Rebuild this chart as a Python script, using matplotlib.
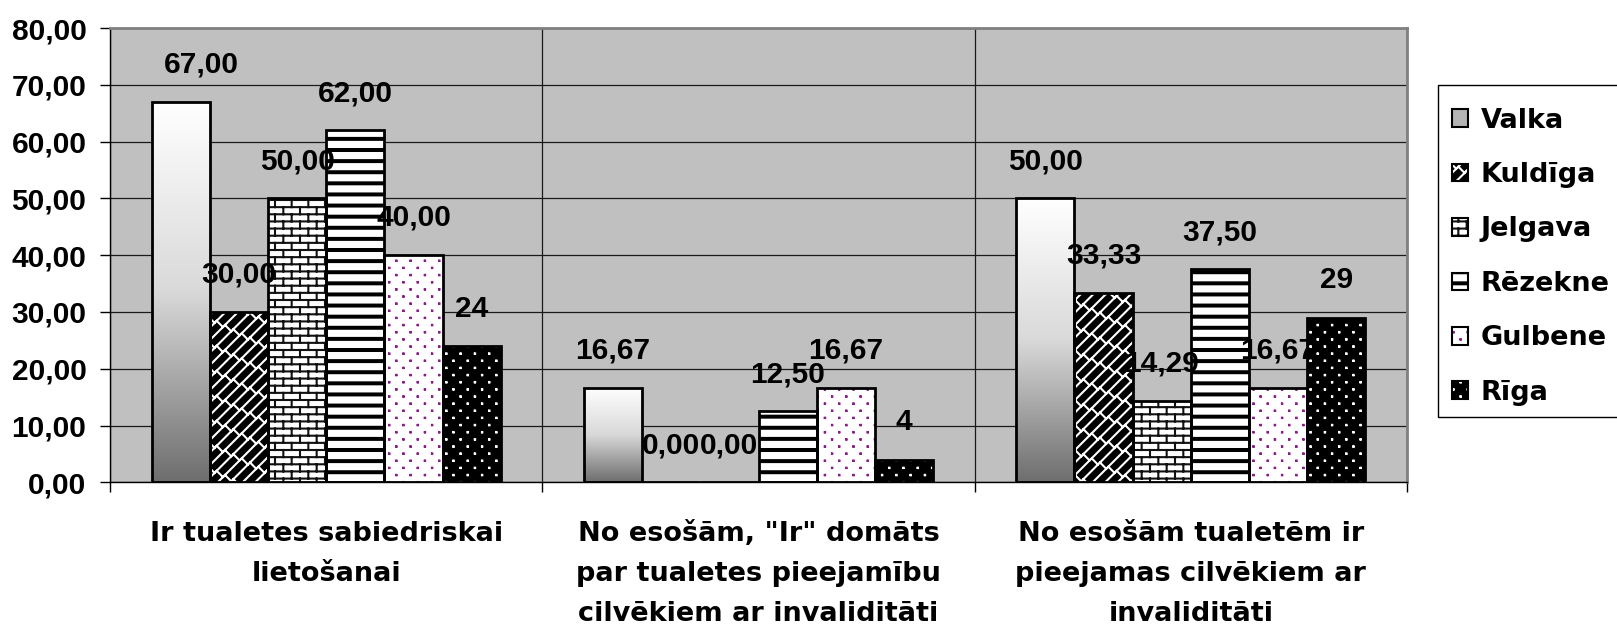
import warnings
warnings.filterwarnings("ignore")
import numpy as np
import matplotlib
matplotlib.use("Agg")
import matplotlib.pyplot as plt
import matplotlib.hatch as mhatch
from matplotlib.path import Path
from matplotlib.patches import Patch, Rectangle
from matplotlib.legend_handler import HandlerTuple
from matplotlib.colors import LinearSegmentedColormap

# ---------------- data ----------------
categories = [
    "Ir tualetes sabiedriskai\nlietošanai",
    "No esošām, \"Ir\" domāts\npar tualetes pieejamību\ncilvēkiem ar invaliditāti",
    "No esošām tualetēm ir\npieejamas cilvēkiem ar\ninvaliditāti",
]
series_names = ["Valka", "Kuldīga", "Jelgava", "Rēzekne", "Gulbene", "Rīga"]
valka = [67.00, 16.67, 50.00]
kuldiga = [30.00, 0.00, 33.33]
jelgava = [50.00, 0.00, 14.29]
rezekne = [62.00, 12.50, 37.50]
gulbene = [40.00, 16.67, 16.67]
riga = [24, 4, 29]
label_decimals = [2, 2, 2, 2, 2, 0]
y_ticks = [0, 10, 20, 30, 40, 50, 60, 70, 80]

series_values = [valka, kuldiga, jelgava, rezekne, gulbene, riga]

# ---------------- custom hatch patterns ----------------
mhatch._validate_hatch_pattern = lambda h: None
plt.rcParams['hatch.linewidth'] = 1.5


class _CustomHatch(mhatch.HatchPatternBase):
    char = None

    def __init__(self, hatch, density):
        self.polys = self.build() if (hatch and self.char in hatch) else []
        self.num_vertices = sum(len(p) for p in self.polys)

    def build(self):
        return []

    def set_vertices_and_codes(self, vertices, codes):
        i = 0
        for p in self.polys:
            n = len(p)
            vertices[i:i + n] = p
            codes[i] = Path.MOVETO
            codes[i + 1:i + n] = Path.LINETO
            i += n


class StripeHatch(_CustomHatch):
    char = 'S'

    def build(self):
        polys = []
        n = 9
        hh = 0.0095
        for k in range(n):
            y0 = (k + 0.5) / n
            polys.append([(-0.1, y0 - hh), (1.1, y0 - hh), (1.1, y0 + hh),
                          (-0.1, y0 + hh), (-0.1, y0 - hh)])
        return polys


class DotHatch(_CustomHatch):
    char = 'P'

    def build(self):
        polys = []
        ncol, nrow = 7, 14
        s = 0.0015
        for r in range(nrow):
            y = (r + 0.5) / nrow
            off = 0.5 * (r % 2)
            for c in range(-1, ncol + 1):
                x = (c + 0.25 + off) / ncol
                polys.append([(x - s, y - s), (x + s, y - s), (x + s, y + s),
                              (x - s, y + s), (x - s, y - s)])
        return polys


class BrickHatch(_CustomHatch):
    char = 'B'

    def build(self):
        polys = []
        nrow, ncol = 14, 6
        for r in range(nrow + 1):
            y = r / nrow
            polys.append([(-0.1, y), (1.1, y)])
        for r in range(nrow):
            y0, y1 = r / nrow, (r + 1) / nrow
            off = 0.5 * (r % 2)
            for c in range(-1, ncol + 1):
                x = (c + off) / ncol
                polys.append([(x, y0), (x, y1)])
        return polys


class DiagBrickHatch(_CustomHatch):
    char = 'D'

    def build(self):
        polys = []
        N, M = 8, 6
        for k in range(-N - 1, 2 * N + 1):
            c = k / N
            polys.append([(-0.2, -0.2 + c), (1.2, 1.2 + c)])
            off = 0.5 * (k % 2)
            for j in range(-2, M + 2):
                x0 = (j + off) / M
                polys.append([(x0, x0 + (k + 1) / N),
                              (x0 + 1 / (2 * N), x0 + 1 / (2 * N) + k / N)])
        return polys


mhatch._hatch_types.extend([StripeHatch, DotHatch, BrickHatch, DiagBrickHatch])

# ---------------- styles ----------------
NUM_FONT = dict(family='Liberation Sans', weight='bold', size=21.5)
WORD_FONT = dict(family='DejaVu Sans', weight='bold', size=19.5)
styles = [
    dict(face='white', hatch=None, hcol='black', gradient=True, legend_face='#b4b4b4'),
    dict(face='black', hatch='D', hcol='white'),
    dict(face='white', hatch='B', hcol='#111111'),
    dict(face='white', hatch='S', hcol='black'),
    dict(face='white', hatch='P', hcol='#8a1a8a'),
    dict(face='black', hatch='P', hcol='white'),
]

fig = plt.figure(figsize=(16.17, 6.3), dpi=100)
ax = fig.add_axes([110 / 1617, 1 - 482.3 / 630, (1407 - 110) / 1617, (482.3 - 28) / 630])
ax.set_facecolor('#c0c0c0')

x = np.arange(len(categories))
n = len(series_names)
w = 0.1346
grad_cmap = LinearSegmentedColormap.from_list('g', ['#6e6e6e', '#d9d9d9', '#ffffff'])

label_dx = {(0, 0): 15}
handles = []
for i, (vals, st) in enumerate(zip(series_values, styles)):
    pos = x + (i - (n - 1) / 2) * w
    zb = 3.0 if i == n - 1 else 2.0
    fill = ax.bar(pos, vals, w, color=st['face'], edgecolor=st['hcol'], linewidth=0,
                  hatch=st['hatch'], zorder=zb)
    outline = ax.bar(pos, vals, w, fill=False, edgecolor='black', linewidth=2,
                     zorder=zb + 0.1)
    if st.get('gradient'):
        grad = np.linspace(1, 0, 256)[:, None]
        for rect in fill.patches:
            h = rect.get_height()
            if h <= 0:
                continue
            x0 = rect.get_x()
            im = ax.imshow(grad, extent=(x0, x0 + rect.get_width(), 0, h), origin='upper',
                           cmap=grad_cmap, vmin=0, vmax=1, aspect='auto',
                           interpolation='bilinear', zorder=zb + 0.05)
            im.set_clip_path(rect)
    dec = label_decimals[i]
    for j, (rect, v) in enumerate(zip(fill.patches, vals)):
        txt = f"{v:.{dec}f}".replace('.', ',')
        ax.annotate(txt, xy=(rect.get_x() + rect.get_width() / 2, v),
                    xytext=(label_dx.get((i, j), 0), 21), textcoords='offset points',
                    ha='center', va='baseline', zorder=2.5, annotation_clip=False,
                    **{'fontsize': NUM_FONT['size'], 'fontweight': 'bold',
                       'family': NUM_FONT['family']})
    hp = Patch(facecolor=st.get('legend_face', st['face']), edgecolor=st['hcol'],
               linewidth=0, hatch=st['hatch'])
    ho = Patch(fill=False, edgecolor='black', linewidth=1.5)
    handles.append((hp, ho))

ax.set_xlim(-0.5, len(categories) - 0.5)
ax.set_ylim(0, 80)

# y axis
ax.set_yticks(y_ticks)
ax.set_yticklabels([f"{t:.2f}".replace('.', ',') for t in y_ticks],
                   fontsize=NUM_FONT['size'], fontweight='bold', family=NUM_FONT['family'])
ax.tick_params(axis='y', direction='out', length=7, width=1, pad=10, colors='black')
ax.yaxis.grid(True, color='#1a1a1a', linewidth=0.9)

# x axis
ax.set_xticks(x)
ax.set_xticklabels([])
ax.tick_params(axis='x', which='major', length=0)
ax.set_xticks(np.arange(len(categories) + 1) - 0.5, minor=True)
ax.tick_params(axis='x', which='minor', direction='out', length=7, width=1)
ax.xaxis.grid(True, which='minor', color='#1a1a1a', linewidth=0.9)
ax.set_axisbelow(True)

line_offsets = [42, 71, 100]
for i, cat in enumerate(categories):
    for k, line in enumerate(cat.split('\n')):
        ax.annotate(line, xy=(i, 0), xycoords=('data', 'axes fraction'),
                    xytext=(0, -line_offsets[k]), textcoords='offset points',
                    ha='center', va='baseline', fontsize=WORD_FONT['size'],
                    fontweight='bold', family=WORD_FONT['family'], annotation_clip=False)

for s in ['left', 'bottom']:
    ax.spines[s].set_color('black')
    ax.spines[s].set_linewidth(1)
for s in ['top', 'right']:
    ax.spines[s].set_color('#808080')
    ax.spines[s].set_linewidth(2)

# legend frame (box runs past the right edge of the picture, as in the original)
frame = Rectangle((1438 / 1617, 1 - 417 / 630), (1660 - 1438) / 1617, (417 - 85) / 630,
                  transform=fig.transFigure, facecolor='white', edgecolor='black',
                  linewidth=1, zorder=1)
fig.add_artist(frame)

leg = fig.legend(handles, series_names, handler_map={tuple: HandlerTuple(ndivide=1)},
                 loc='upper left', bbox_to_anchor=(1438 / 1617, 1 - 94 / 630),
                 bbox_transform=fig.transFigure, borderaxespad=0, frameon=False,
                 prop=dict(family=WORD_FONT['family'], weight='bold', size=WORD_FONT['size']),
                 handlelength=0.62, handleheight=0.62, handletextpad=0.45,
                 labelspacing=1.05, borderpad=0.5)
leg.set_zorder(5)

fig.savefig('out.png', dpi=100, facecolor='white')
